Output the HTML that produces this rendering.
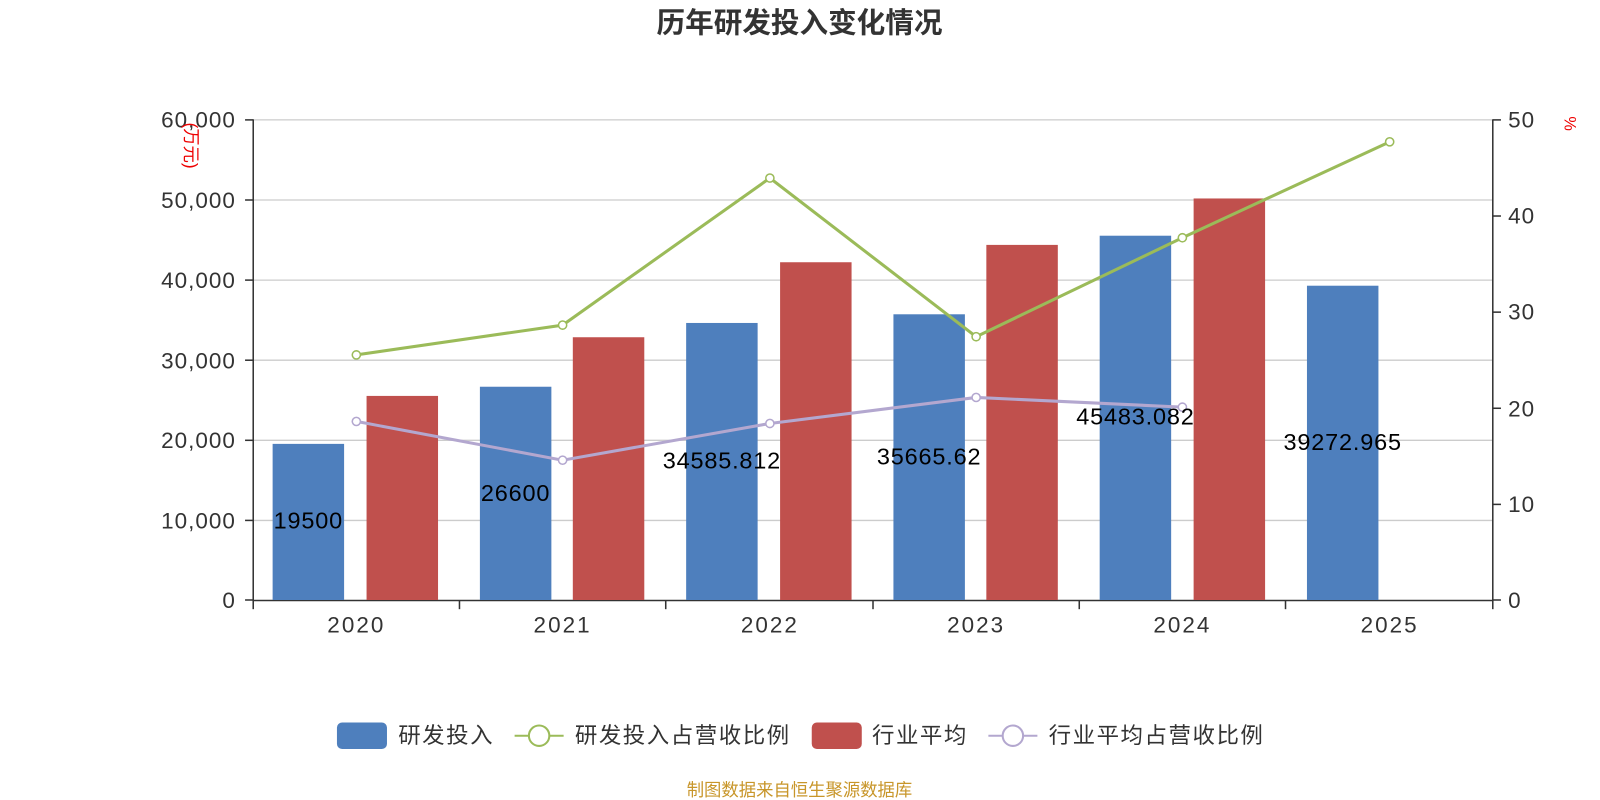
<!DOCTYPE html>
<html><head><meta charset="utf-8"><style>html,body{margin:0;padding:0;background:#fff;width:1600px;height:800px;overflow:hidden}</style></head><body>
<svg width="1600" height="800" viewBox="0 0 1567 784" preserveAspectRatio="none" xmlns="http://www.w3.org/2000/svg" font-family="'Liberation Sans','Noto Sans CJK SC',sans-serif">
<text x="783" y="32" text-anchor="middle" font-size="28" font-weight="bold" fill="#333">历年研发投入变化情况</text>
<g stroke="#ccc" stroke-width="1.3">
<line x1="248" x2="1462" y1="117.5" y2="117.5"/><line x1="248" x2="1462" y1="196" y2="196"/><line x1="248" x2="1462" y1="274.5" y2="274.5"/><line x1="248" x2="1462" y1="353" y2="353"/><line x1="248" x2="1462" y1="431.5" y2="431.5"/><line x1="248" x2="1462" y1="510" y2="510"/>
</g>
<g stroke="#333" stroke-width="1.5">
<line x1="248" x2="248" y1="117" y2="588"/><line x1="1462" x2="1462" y1="117" y2="588"/><line x1="248" x2="1462" y1="588.5" y2="588.5"/>
<line x1="240" x2="248" y1="117.5" y2="117.5"/><line x1="240" x2="248" y1="196" y2="196"/><line x1="240" x2="248" y1="274.5" y2="274.5"/><line x1="240" x2="248" y1="353" y2="353"/><line x1="240" x2="248" y1="431.5" y2="431.5"/><line x1="240" x2="248" y1="510" y2="510"/><line x1="240" x2="248" y1="588" y2="588"/>
<line x1="1462" x2="1470" y1="117.5" y2="117.5"/><line x1="1462" x2="1470" y1="211.7" y2="211.7"/><line x1="1462" x2="1470" y1="305.9" y2="305.9"/><line x1="1462" x2="1470" y1="400.1" y2="400.1"/><line x1="1462" x2="1470" y1="494.3" y2="494.3"/><line x1="1462" x2="1470" y1="588" y2="588"/>
<line x1="248" x2="248" y1="588" y2="597"/><line x1="450" x2="450" y1="588" y2="597"/><line x1="652" x2="652" y1="588" y2="597"/><line x1="855" x2="855" y1="588" y2="597"/><line x1="1057" x2="1057" y1="588" y2="597"/><line x1="1259" x2="1259" y1="588" y2="597"/><line x1="1462" x2="1462" y1="588" y2="597"/>
</g>
<g font-size="22" fill="#333" text-anchor="end" letter-spacing="1">
<text x="231" y="125">60,000</text><text x="231" y="204">50,000</text><text x="231" y="282">40,000</text><text x="231" y="361">30,000</text><text x="231" y="439">20,000</text><text x="231" y="518">10,000</text><text x="231" y="596">0</text>
</g>
<g font-size="22" fill="#333" letter-spacing="1">
<text x="1477" y="125">50</text><text x="1477" y="219">40</text><text x="1477" y="313">30</text><text x="1477" y="408">20</text><text x="1477" y="502">10</text><text x="1477" y="596">0</text>
</g>
<text x="1533" y="125" font-size="16" fill="#e00" transform="rotate(90 1538 119)">%</text>
<text font-size="17" fill="#e00" transform="translate(181,120) rotate(90)">(万元)</text>
<g font-size="22" fill="#333" text-anchor="middle" letter-spacing="2">
<text x="349" y="620">2020</text><text x="551" y="620">2021</text><text x="754" y="620">2022</text><text x="956" y="620">2023</text><text x="1158" y="620">2024</text><text x="1361" y="620">2025</text>
</g>
<g fill="#4e7fbd">
<rect x="267" y="435" width="70" height="153"/><rect x="470" y="379" width="70" height="209"/><rect x="672" y="316.5" width="70" height="271.5"/><rect x="875" y="308" width="70" height="280"/><rect x="1077" y="231" width="70" height="357"/><rect x="1280" y="280" width="70" height="308"/>
</g>
<g fill="#c0504d">
<rect x="359" y="388" width="70" height="200"/><rect x="561" y="330.5" width="70" height="257.5"/><rect x="764" y="257" width="70" height="331"/><rect x="966" y="240" width="70" height="348"/><rect x="1169" y="194.5" width="70" height="393.5"/>
</g>
<polyline points="349,347.8 551,318.6 754,174.5 956,330 1158,233 1361,139" fill="none" stroke="#9bbb59" stroke-width="3"/>
<g fill="#fff" stroke="#9bbb59" stroke-width="1.5"><circle cx="349" cy="347.8" r="4"/><circle cx="551" cy="318.6" r="4"/><circle cx="754" cy="174.5" r="4"/><circle cx="956" cy="330" r="4"/><circle cx="1158" cy="233" r="4"/><circle cx="1361" cy="139" r="4"/></g>
<polyline points="349,413 551,451 754,415 956,389.5 1158,399" fill="none" stroke="#b3a7cf" stroke-width="3"/>
<g fill="#fff" stroke="#b3a7cf" stroke-width="1.5"><circle cx="349" cy="413" r="4"/><circle cx="551" cy="451" r="4"/><circle cx="754" cy="415" r="4"/><circle cx="956" cy="389.5" r="4"/><circle cx="1158" cy="399" r="4"/></g>
<g font-size="23" fill="#000" text-anchor="middle" letter-spacing="0.8">
<text x="302" y="518">19500</text><text x="505" y="491">26600</text><text x="707" y="459">34585.812</text><text x="910" y="455">35665.62</text><text x="1112" y="416">45483.082</text><text x="1315" y="441">39272.965</text>
</g>
<g font-size="22" fill="#333" letter-spacing="1.5">
<rect x="330" y="708" width="49" height="26" rx="5" fill="#4e7fbd"/><text x="390" y="728">研发投入</text>
<line x1="504" x2="552" y1="721" y2="721" stroke="#9bbb59" stroke-width="2"/><circle cx="528" cy="721" r="10" fill="#fff" stroke="#9bbb59" stroke-width="2"/><text x="563" y="728">研发投入占营收比例</text>
<rect x="795" y="708" width="49" height="26" rx="5" fill="#c0504d"/><text x="854" y="728">行业平均</text>
<line x1="968" x2="1016" y1="721" y2="721" stroke="#b3a7cf" stroke-width="2"/><circle cx="992" cy="721" r="10" fill="#fff" stroke="#b3a7cf" stroke-width="2"/><text x="1027" y="728">行业平均占营收比例</text>
</g>
<text x="783" y="780" text-anchor="middle" font-size="17" fill="#c8962a">制图数据来自恒生聚源数据库</text>
</svg>
</body></html>
